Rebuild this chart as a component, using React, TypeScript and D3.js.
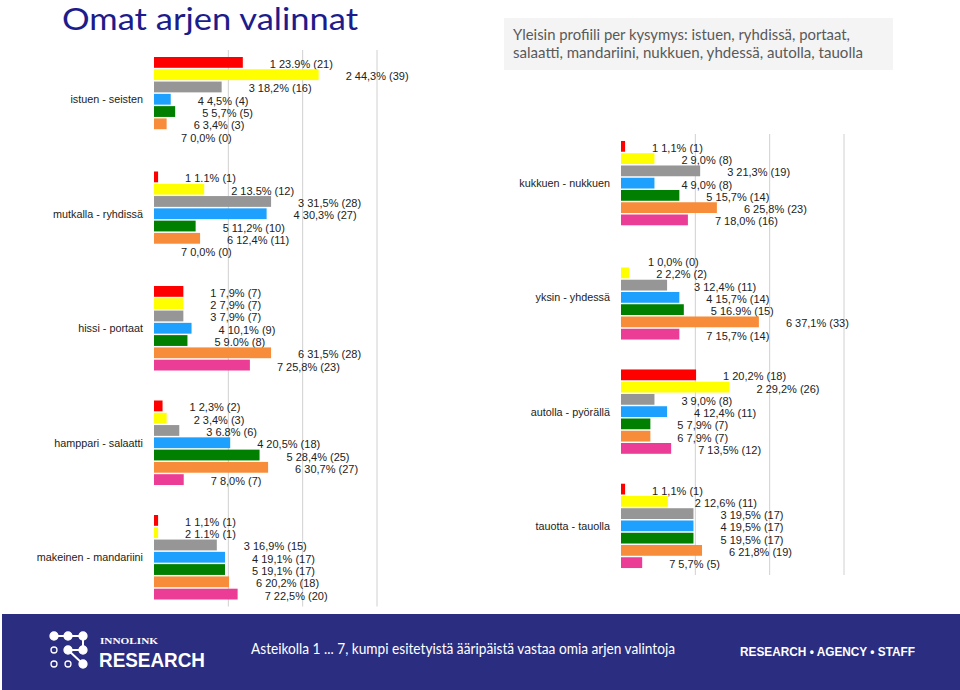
import React from "react";
import * as d3 from "d3";

// ---------- data ----------
const leftCategories = [
  "istuen - seisten",
  "mutkalla - ryhdissä",
  "hissi - portaat",
  "hamppari - salaatti",
  "makeinen - mandariini",
];
const rightCategories = [
  "kukkuen - nukkuen",
  "yksin - yhdessä",
  "autolla - pyörällä",
  "tauotta - tauolla",
];
const options = ["1", "2", "3", "4", "5", "6", "7"];

const istuenValues = [23.9, 44.3, 18.2, 4.5, 5.7, 3.4, 0.0];
const istuenLabels = ["1 23.9% (21)", "2 44,3% (39)", "3 18,2% (16)", "4 4,5% (4)", "5 5,7% (5)", "6 3,4% (3)", "7 0,0% (0)"];
const mutkallaValues = [1.1, 13.5, 31.5, 30.3, 11.2, 12.4, 0.0];
const mutkallaLabels = ["1 1.1% (1)", "2 13.5% (12)", "3 31,5% (28)", "4 30,3% (27)", "5 11,2% (10)", "6 12,4% (11)", "7 0,0% (0)"];
const hissiValues = [7.9, 7.9, 7.9, 10.1, 9.0, 31.5, 25.8];
const hissiLabels = ["1 7,9% (7)", "2 7,9% (7)", "3 7,9% (7)", "4 10,1% (9)", "5 9.0% (8)", "6 31,5% (28)", "7 25,8% (23)"];
const hamppariValues = [2.3, 3.4, 6.8, 20.5, 28.4, 30.7, 8.0];
const hamppariLabels = ["1 2,3% (2)", "2 3,4% (3)", "3 6.8% (6)", "4 20,5% (18)", "5 28,4% (25)", "6 30,7% (27)", "7 8,0% (7)"];
const makeinenValues = [1.1, 1.1, 16.9, 19.1, 19.1, 20.2, 22.5];
const makeinenLabels = ["1 1,1% (1)", "2 1.1% (1)", "3 16,9% (15)", "4 19,1% (17)", "5 19,1% (17)", "6 20,2% (18)", "7 22,5% (20)"];

const kukkuenValues = [1.1, 9.0, 21.3, 9.0, 15.7, 25.8, 18.0];
const kukkuenLabels = ["1 1,1% (1)", "2 9,0% (8)", "3 21,3% (19)", "4 9,0% (8)", "5 15,7% (14)", "6 25,8% (23)", "7 18,0% (16)"];
const yksinValues = [0.0, 2.2, 12.4, 15.7, 16.9, 37.1, 15.7];
const yksinLabels = ["1 0,0% (0)", "2 2,2% (2)", "3 12,4% (11)", "4 15,7% (14)", "5 16.9% (15)", "6 37,1% (33)", "7 15,7% (14)"];
const autollaValues = [20.2, 29.2, 9.0, 12.4, 7.9, 7.9, 13.5];
const autollaLabels = ["1 20,2% (18)", "2 29,2% (26)", "3 9,0% (8)", "4 12,4% (11)", "5 7,9% (7)", "6 7,9% (7)", "7 13,5% (12)"];
const tauottaValues = [1.1, 12.6, 19.5, 19.5, 19.5, 21.8, 5.7];
const tauottaLabels = ["1 1,1% (1)", "2 12,6% (11)", "3 19,5% (17)", "4 19,5% (17)", "5 19,5% (17)", "6 21,8% (19)", "7 5,7% (5)"];

const gridTicks = [20, 40, 60];

const optionColors = ["#ff0000", "#ffff00", "#969696", "#1ea0ff", "#007f00", "#f78d3a", "#ec3d96"];

const leftValues = [istuenValues, mutkallaValues, hissiValues, hamppariValues, makeinenValues];
const leftLabels = [istuenLabels, mutkallaLabels, hissiLabels, hamppariLabels, makeinenLabels];
const rightValues = [kukkuenValues, yksinValues, autollaValues, tauottaValues];
const rightLabels = [kukkuenLabels, yksinLabels, autollaLabels, tauottaLabels];

const FONT = "'Liberation Sans', Arial, sans-serif";
const CAL = "Lato, 'Open Sans', sans-serif";

type PanelProps = {
  cats: string[];
  values: number[][];
  labels: string[][];
  x0: number;
  x1: number;
  y0: number;
  y1: number;
};

function Panel({ cats, values, labels, x0, x1, y0, y1 }: PanelProps) {
  const x = d3.scaleLinear().domain([0, 60]).range([x0, x1]);
  const y = d3.scaleBand<string>().domain(cats).range([y0, y1]).paddingInner(0.262).paddingOuter(0.131);
  const yi = d3.scaleBand<string>().domain(options).range([0, y.bandwidth()]).paddingInner(0.12).paddingOuter(0);
  return (
    <g>
      {gridTicks.map((t) => (
        <line key={t} x1={x(t)} x2={x(t)} y1={y0 + 8} y2={y1 - 8} stroke="#d0d0d0" strokeWidth={1} />
      ))}
      {cats.map((c, ci) => {
        const gy = y(c) as number;
        return (
          <g key={c}>
            <text
              x={x(0) - 11}
              y={gy + y.bandwidth() / 2 + 4}
              textAnchor="end"
              fontFamily={FONT}
              fontSize={10.8}
              fill="#222"
            >
              {c}
            </text>
            {options.map((o, oi) => {
              const by = gy + (yi(o) as number);
              const v = values[ci][oi];
              return (
                <g key={o}>
                  {v > 0 && (
                    <rect x={x(0)} y={by} width={x(v) - x(0)} height={yi.bandwidth()} fill={optionColors[oi]} />
                  )}
                  <text
                    x={x(v) + 27}
                    y={by + yi.bandwidth() / 2 + 5.5}
                    fontFamily={FONT}
                    fontSize={11}
                    fill="#222"
                  >
                    {labels[ci][oi]}
                  </text>
                </g>
              );
            })}
          </g>
        );
      })}
    </g>
  );
}

function Logo() {
  const cx = [54, 68, 83];
  const cy = [636, 650, 664];
  return (
    <g>
      <line x1={cx[0]} y1={cy[0]} x2={cx[2]} y2={cy[0]} stroke="#fff" strokeWidth={2} />
      <line x1={cx[2]} y1={cy[0]} x2={cx[2]} y2={cy[1]} stroke="#fff" strokeWidth={2} />
      <line x1={cx[1]} y1={cy[1]} x2={cx[2]} y2={cy[1]} stroke="#fff" strokeWidth={2} />
      <line x1={cx[1]} y1={cy[1]} x2={cx[2]} y2={cy[2]} stroke="#fff" strokeWidth={2} />
      {[
        [0, 0, true], [1, 0, true], [2, 0, true],
        [0, 1, false], [1, 1, true], [2, 1, true],
        [0, 2, false], [1, 2, false], [2, 2, true],
      ].map(([i, j, f], k) => (
        <circle
          key={k}
          cx={cx[i as number]}
          cy={cy[j as number]}
          r={f ? 4 : 3}
          fill={f ? "#fff" : "none"}
          stroke="#fff"
          strokeWidth={1.3}
        />
      ))}
      <text x={100} y={644} fontFamily="'Liberation Serif', serif" fontWeight="bold" fontSize={9} fill="#fff" textLength={58} lengthAdjust="spacingAndGlyphs">
        INNOLINK
      </text>
      <text x={99} y={667} fontFamily={FONT} fontWeight="bold" fontSize={21} fill="#fff" textLength={106} lengthAdjust="spacingAndGlyphs">
        RESEARCH
      </text>
    </g>
  );
}

export default function App() {
  return (
    <svg width={960} height={690} style={{ position: "absolute", left: 0, top: 0, background: "#fff" }}>
      <rect x={0} y={0} width={960} height={690} fill="#fff" />
      <text x={62} y={29.5} fontFamily={CAL} fontSize={30} fill="#1c1c8c" textLength={296} lengthAdjust="spacingAndGlyphs">
        Omat arjen valinnat
      </text>

      <rect x={504} y={18} width={389} height={52} fill="#f4f4f4" />
      <text x={513} y={40} fontFamily={CAL} fontSize={15} fill="#595959" textLength={337} lengthAdjust="spacingAndGlyphs">
        Yleisin profiili per kysymys: istuen, ryhdissä, portaat,
      </text>
      <text x={513} y={58} fontFamily={CAL} fontSize={15} fill="#595959" textLength={350} lengthAdjust="spacingAndGlyphs">
        salaatti, mandariini, nukkuen, yhdessä, autolla, tauolla
      </text>

      <Panel cats={leftCategories} values={leftValues} labels={leftLabels} x0={154} x1={377} y0={42} y1={614.5} />
      <Panel cats={rightCategories} values={rightValues} labels={rightLabels} x0={621} x1={844} y0={126} y1={583} />

      <rect x={2} y={614} width={958} height={76} fill="#2b2d80" />
      <Logo />
      <text x={251} y={654} fontFamily={CAL} fontSize={15} fill="#fff" textLength={424} lengthAdjust="spacingAndGlyphs">
        Asteikolla 1 ... 7, kumpi esitetyistä ääripäistä vastaa omia arjen valintoja
      </text>
      <text x={740} y={656} fontFamily={FONT} fontWeight="bold" fontSize={12.5} fill="#fff" textLength={175} lengthAdjust="spacingAndGlyphs">
        RESEARCH • AGENCY • STAFF
      </text>
    </svg>
  );
}
